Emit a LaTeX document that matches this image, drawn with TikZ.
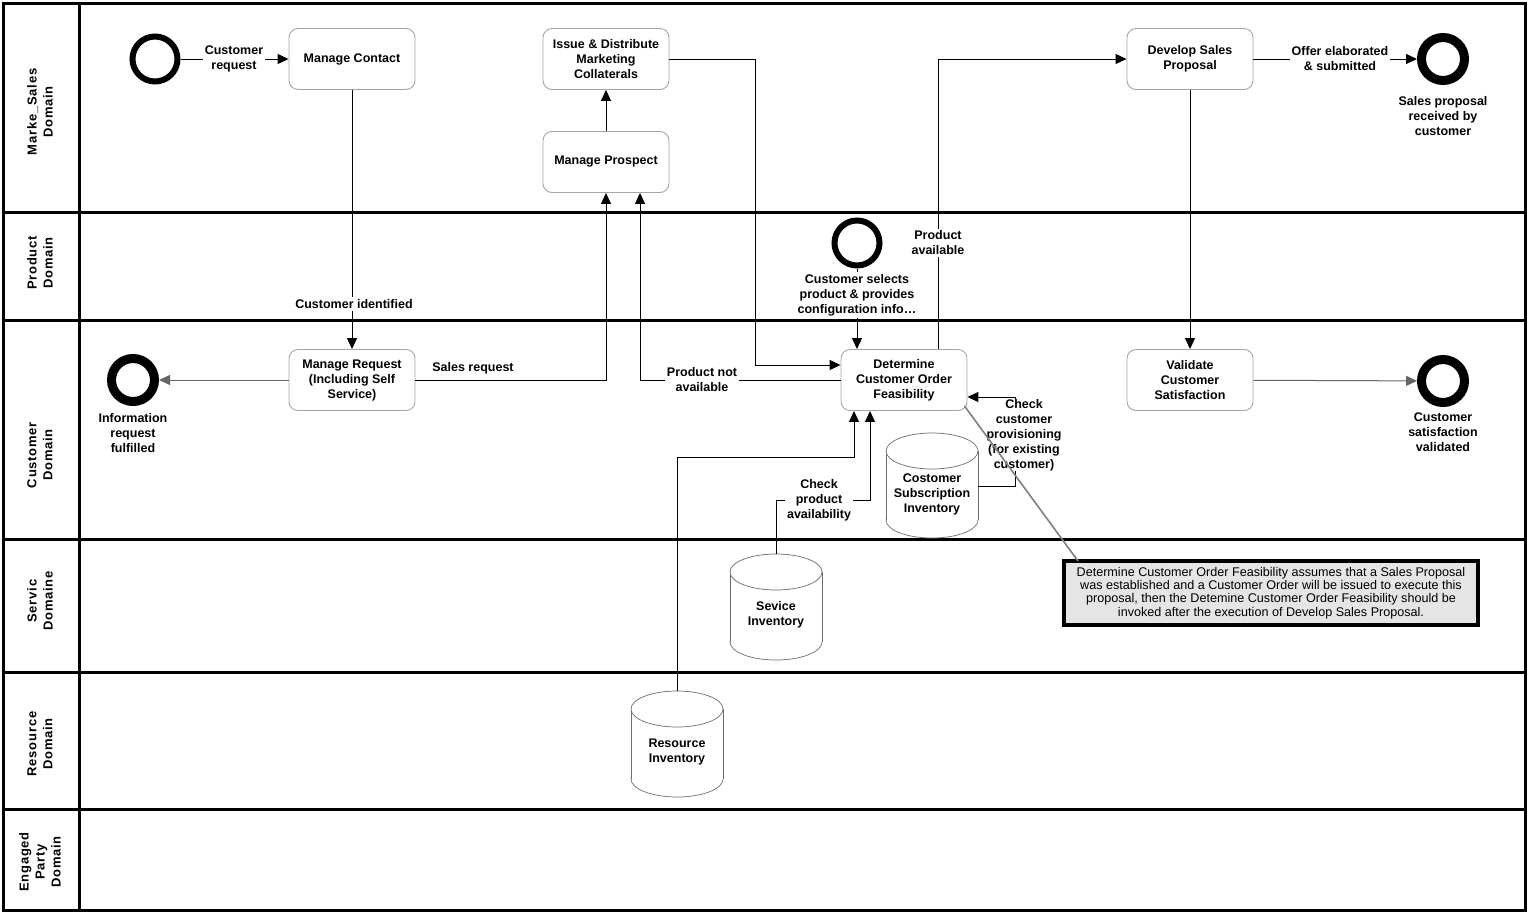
\documentclass[tikz,border=0pt]{standalone}
\usepackage{fontspec}
\setmainfont{Liberation Sans}
\newfontfamily\lanefont[LetterSpace=6]{Liberation Sans}
\usetikzlibrary{arrows.meta,calc}
\newcommand\lbl{\bfseries\fontsize{12.5}{15}\selectfont}
\newcommand\cyldraw[3]{%
  \draw[cylst] (#1,#3-18) ellipse [x radius=46, y radius=18];
  \fill[white] (#1-46,#2+18) rectangle (#1+46,#3-18);
  \draw[cylst] (#1-46,#2+18) -- (#1-46,#3-18) (#1+46,#2+18) -- (#1+46,#3-18);
  \draw[cylst] (#1,#2+18) ellipse [x radius=46, y radius=18];
}
\begin{document}
\begin{tikzpicture}[x=1pt,y=-1pt,
  lane/.style={line width=3pt},
  lanelbl/.style={rotate=90, align=center, font=\lanefont\bfseries\fontsize{13}{16}\selectfont, inner sep=0pt},
  task/.style={draw=gray!70, line width=0.9pt, rounded corners=9pt, minimum width=126pt, minimum height=61pt, align=center, font=\lbl, inner sep=2pt, fill=white},
  sev/.style={circle, draw, line width=6pt, minimum size=45pt, inner sep=0pt},
  eev/.style={circle, draw, line width=9pt, minimum size=43pt, inner sep=0pt},
  txt/.style={align=center, font=\lbl, inner sep=1pt},
  wtxt/.style={txt, fill=white, inner sep=2pt},
  arr/.style={line width=1pt, -{Triangle[length=11pt,width=10pt]}},
  garr/.style={arr, draw=gray!80!black},
  cylst/.style={draw=gray!85!black, line width=0.7pt, fill=white},
  notest/.style={draw=black, line width=4pt, fill=gray!20, align=center, minimum width=414pt, minimum height=64pt, inner sep=0pt, font=\fontsize{12.6}{13.4}\selectfont},
]
\useasboundingbox (0,0) rectangle (1528,913);
\fill[white] (0,0) rectangle (1528,913);

% lanes
\draw[lane] (3,3) rectangle (1525,910);
\draw[lane] (79,3) -- (79,910);
\foreach \yy in {212,320,539,672,809} \draw[lane] (3,\yy) -- (1525,\yy);
\node[lanelbl] (l1) at (40,112) {Marke\_Sales\\Domain};
\node[lanelbl] (l2) at (40,263) {Product\\Domain};
\node[lanelbl] (l3) at (40,455) {Customer\\Domain};
\node[lanelbl] (l4) at (40,601) {Servic\\Domaine};
\node[lanelbl] (l5) at (40,744) {Resource\\Domain};
\node[lanelbl] (l6) at (40,862) {Engaged\\Party\\Domain};

% tasks
\node[task] (mc) at (352,59) {Manage Contact};
\node[task] (idm) at (606,59) {Issue \& Distribute\\Marketing\\Collaterals};
\node[task] (mp) at (606,162) {Manage Prospect};
\node[task] (dsp) at (1190,59) {Develop Sales\\Proposal};
\node[task] (mr) at (352,380) {Manage Request\\(Including Self\\Service)};
\node[task] (dcof) at (904,380) {Determine\\Customer Order\\Feasibility};
\node[task] (vcs) at (1190,380) {Validate\\Customer\\Satisfaction};

% events
\node[sev] (se1) at (155,59) {};
\node[sev] (se2) at (857,243) {};
\node[eev] (ee1) at (1443,59) {};
\node[eev] (ee2) at (133,380) {};
\node[eev] (ee3) at (1443,381) {};
\node[txt] (ee1l) at (1443,116) {Sales proposal\\received by\\customer};
\node[txt] (ee2l) at (133,433) {Information\\request\\fulfilled};
\node[txt] (ee3l) at (1443,432) {Customer\\satisfaction\\validated};

% cylinders
\cyldraw{932}{433}{538}
\cyldraw{776}{554}{660}
\cyldraw{677}{691}{797}
\node[txt] (ci) at (932,494) {Costomer\\Subscription\\Inventory};
\node[txt] (si) at (776,614.5) {Sevice\\Inventory};
\node[txt] (ri) at (677,751.5) {Resource\\Inventory};
\coordinate (citop) at (932,433);
\coordinate (ciright) at (978,486);
\coordinate (sitop) at (776,554);
\coordinate (ritop) at (677,691);

% connectors
\draw[arr] (se1) -- (mc);
\draw[arr] (mc) -- (mr);
\draw[arr] (mp) -- (idm);
\draw[arr] (idm.east) -- ++(86,0) |- ([yshift=15pt]dcof.west);
\draw[arr] (mr.east) -| (mp.south);
\draw[arr] (dcof.west) -| ([xshift=34pt]mp.south);
\draw[arr] ([xshift=34pt]dcof.north) |- (dsp.west);
\draw[arr] (se2) -- ([xshift=-47pt]dcof.north);
\draw[arr] (dsp) -- (ee1);
\draw[arr] (dsp) -- (vcs);
\draw[garr] (vcs) -- (ee3);
\draw[garr] (mr) -- (ee2);
\draw[arr] (ritop) |- ([xshift=-50pt,yshift=-47pt]dcof.south) -- ([xshift=-50pt]dcof.south);
\draw[arr] (sitop) |- ([xshift=-34pt,yshift=-90pt]dcof.south) -- ([xshift=-34pt]dcof.south);
\draw[arr] (ciright) -| ([xshift=48pt,yshift=-17pt]dcof.east) -- ([yshift=-17pt]dcof.east);

% connector labels
\node[wtxt] (t1) at (234,59) {Customer\\request};
\node[wtxt] (t2) at (354,304) {Customer identified};
\node[txt] (t3) at (473,368) {Sales request};
\node[wtxt] (t4) at (702,380) {Product not\\available};
\node[wtxt] (t5) at (938,243) {Product\\available};
\node[wtxt] (t6) at (857,295) {Customer selects\\product \& provides\\configuration info\dots};
\node[wtxt] (t7) at (1340,59) {Offer elaborated\\\& submitted};
\node[wtxt] (t8) at (819,500) {Check\\product\\availability};
\node[wtxt, inner sep=0pt] (t9) at (1024,435) {Check\\customer\\provisioning\\(for existing\\customer)};

% note
\node[notest] (note) at (1271,593) {Determine Customer Order Feasibility assumes that a Sales Proposal\\was established and a Customer Order will be issued to execute this\\proposal, then the Detemine Customer Order Feasibility should be\\invoked after the execution of Develop Sales Proposal.};
\draw[gray, line width=1.6pt] ([xshift=-3pt,yshift=5pt]dcof.south east) -- ([xshift=16pt,yshift=-2pt]note.north west);
\end{tikzpicture}
\end{document}
